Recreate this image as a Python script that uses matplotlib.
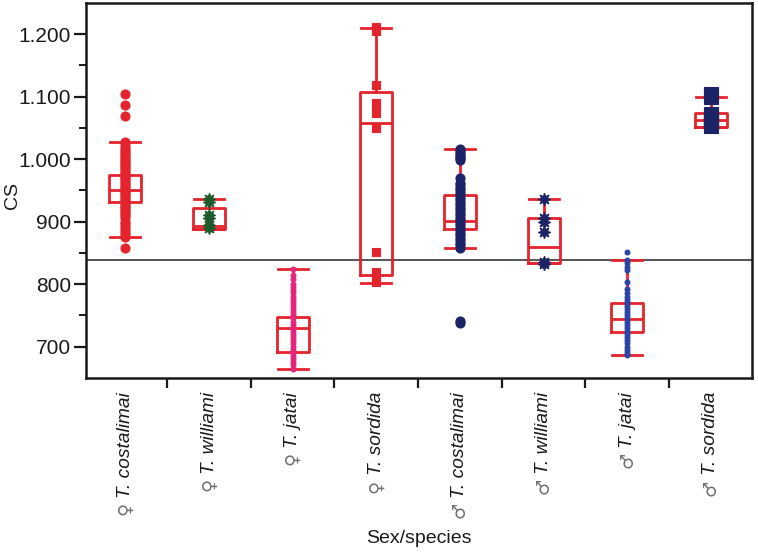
import matplotlib
matplotlib.use("Agg")
import matplotlib.pyplot as plt
from matplotlib.ticker import FixedLocator

plt.rcParams["font.family"] = ["Liberation Sans", "DejaVu Sans"]

# categorías (sexo + especie)
especies = ["T. costalimai", "T. williami", "T. jatai", "T. sordida",
            "T. costalimai", "T. williami", "T. jatai", "T. sordida"]
sexos = ["♀", "♀", "♀", "♀", "♂", "♂", "♂", "♂"]

# resumen de cada caja (CS)
q1 = [932, 888, 692, 815, 888, 833, 723, 1052]
mediana = [951, 893, 729, 1057, 901, 859, 744, 1063]
q3 = [974, 921, 748, 1108, 943, 906, 769, 1073]
bigote_bajo = [876, 888, 664, 802, 857, 833, 686, 1052]
bigote_alto = [1027, 936, 824, 1209, 1016, 936, 838, 1099]

# observaciones individuales
f_costalimai = [1104, 1087, 1069, 1027, 1022, 1018, 1014, 1011, 1008, 1005, 1002,
                999, 996, 993, 990, 987, 984, 981, 978, 975, 972, 969, 966, 963,
                960, 957, 954, 951, 948, 945, 942, 939, 936, 933, 930, 927, 924,
                921, 918, 915, 912, 909, 905, 900, 896, 892, 888, 884, 880, 876, 858]
f_williami = [936, 931, 910, 906, 894, 889]
f_jatai = [824, 815, 808, 800, 795, 790, 785, 780, 775, 770, 765, 760, 755, 750,
           745, 740, 735, 730, 725, 720, 715, 710, 705, 700, 695, 690, 685, 680,
           675, 670, 664]
f_sordida = [1212, 1208, 1205, 1118, 1090, 1082, 1074, 1050, 852, 820, 812, 803]
m_costalimai = [1016, 1013, 1010, 1007, 1004, 1001, 998, 970, 962, 958, 954, 950,
                946, 942, 938, 934, 930, 926, 922, 918, 914, 910, 906, 902, 898,
                894, 890, 886, 882, 878, 874, 870, 866, 862, 858, 741, 737]
m_williami = [936, 905, 899, 884, 836, 832]
m_jatai = [852, 838, 833, 828, 822, 804, 792, 786, 780, 775, 770, 765, 760, 755,
           750, 745, 740, 735, 730, 725, 720, 715, 710, 705, 700, 695, 690, 686]
m_sordida = [1104, 1099, 1072, 1068, 1064, 1060, 1056, 1053]

linea_ref = 839

ROJO = "#e3242d"
grupos = [
    (f_costalimai, "o", ROJO, 6.5),
    (f_williami, (8, 1, 0), "#1d5a2c", 9),
    (f_jatai, "o", "#e3257b", 3.5),
    (f_sordida, "s", ROJO, 6),
    (m_costalimai, "o", "#1c2366", 6.5),
    (m_williami, (8, 1, 0), "#1c2366", 9),
    (m_jatai, "o", "#2b44a6", 3.5),
    (m_sordida, "s", "#1c2366", 9.5),
]

fig, ax = plt.subplots(figsize=(7.58, 5.54), dpi=100)
fig.subplots_adjust(left=0.1135, right=0.992, top=0.995, bottom=0.318)

stats = [dict(q1=a, med=m, q3=b, whislo=lo, whishi=hi, fliers=[])
         for a, m, b, lo, hi in zip(q1, mediana, q3, bigote_bajo, bigote_alto)]
estilo = dict(color=ROJO, linewidth=2.0)
ax.bxp(stats, positions=range(len(stats)), widths=0.38, capwidths=0.36,
       boxprops=estilo, medianprops=estilo, whiskerprops=estilo, capprops=estilo,
       showfliers=False, manage_ticks=False)

for i, (valores, marcador, color, tam) in enumerate(grupos):
    ax.plot([i] * len(valores), valores, linestyle="none", marker=marcador,
            color=color, markersize=tam, markeredgewidth=0.8, zorder=3)

ax.axhline(linea_ref, color="#555555", linewidth=1.4, zorder=1)

ax.set_xlim(-0.47, 7.49)
ax.set_ylim(650, 1250)

ax.set_yticks([700, 800, 900, 1000, 1100, 1200])
ax.set_yticklabels(["700", "800", "900", "1.000", "1.100", "1.200"])
ax.yaxis.set_minor_locator(FixedLocator([750, 850, 950, 1050, 1150]))
ax.tick_params(axis="y", which="major", length=9, width=1.6, pad=2,
               labelsize=15, colors="#1a1a1a")
ax.tick_params(axis="y", which="minor", length=5, width=1.4, colors="#1a1a1a")

ax.set_xticks([0.5, 1.5, 2.5, 3.5, 4.5, 5.5, 6.5])
ax.set_xticklabels([])
ax.tick_params(axis="x", length=7, width=1.6, colors="#1a1a1a")

for lado in ax.spines.values():
    lado.set_linewidth(1.8)
    lado.set_color("#1a1a1a")

# etiquetas: nombre en cursiva y símbolo del sexo debajo
trans = ax.get_xaxis_transform()
for i, (nombre, sexo) in enumerate(zip(especies, sexos)):
    t = ax.text(i, -0.038, nombre, transform=trans, rotation=90, ha="center",
                va="top", style="italic", fontsize=13.8, color="#1a1a1a")
    ax.annotate(sexo, xy=(0.5, 0), xycoords=t, xytext=(0, -3),
                textcoords="offset points", rotation=90, ha="center", va="top",
                fontsize=13, color="#707070", family="DejaVu Sans")

fig.text(0.553, 0.028, "Sex/species", ha="center", va="center", fontsize=14,
         color="#1a1a1a")
fig.text(0.017, 0.648, "CS", ha="center", va="center", rotation=90,
         fontsize=14, color="#1a1a1a")

fig.savefig("out.png", dpi=100)
